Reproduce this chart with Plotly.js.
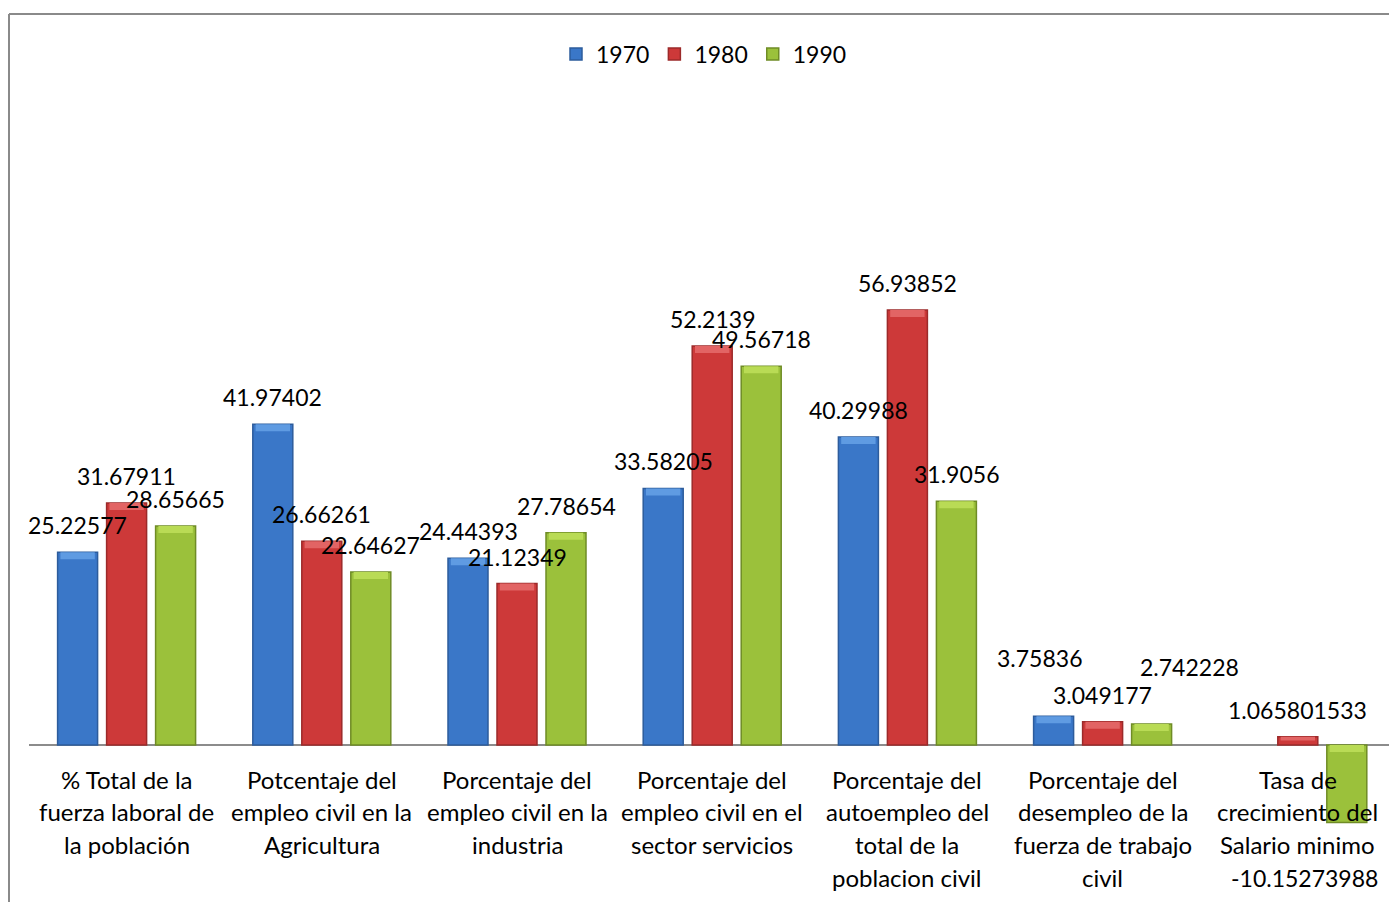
<!DOCTYPE html>
<html>
<head>
<meta charset="utf-8">
<script src="https://cdn.plot.ly/plotly-3.0.1.min.js"></script>
<style>
  html, body { margin: 0; padding: 0; background: #fff; overflow: hidden; }
  #chart { width: 1389px; height: 902px; }
</style>
</head>
<body>
<div id="chart"></div>
<script>
// Indicadores laborales por década
const categories = [
  ["% Total de la", "fuerza laboral de", "la población"],
  ["Potcentaje del", "empleo civil en la", "Agricultura"],
  ["Porcentaje del", "empleo civil en la", "industria"],
  ["Porcentaje del", "empleo civil en el", "sector servicios"],
  ["Porcentaje del", "autoempleo del", "total de la", "poblacion civil"],
  ["Porcentaje del", "desempleo de la", "fuerza de trabajo", "civil"],
  ["Tasa de", "crecimiento del", "Salario minimo"]
];
const seriesNames = ["1970", "1980", "1990"];
const values1970 = [25.22577, 41.97402, 24.44393, 33.58205, 40.29988, 3.75836, null];
const values1980 = [31.67911, 26.66261, 21.12349, 52.2139, 56.93852, 3.049177, 1.065801533];
const values1990 = [28.65665, 22.64627, 27.78654, 49.56718, 31.9056, 2.742228, -10.15273988];
const labelText1970 = ["25.22577", "41.97402", "24.44393", "33.58205", "40.29988", "3.75836", ""];
const labelText1980 = ["31.67911", "26.66261", "21.12349", "52.2139", "56.93852", "3.049177", "1.065801533"];
const labelText1990 = ["28.65665", "22.64627", "27.78654", "49.56718", "31.9056", "2.742228", "-10.15273988"];

// styling
const fillColors = ["#3a77c8", "#cd3939", "#9bc13b"];
const edgeColors = ["#2d5c9c", "#9c2a2a", "#6f8c26"];
const capColors  = ["#5f9be2", "#e26464", "#b9db55"];
const FONT = "Lato, 'Open Sans', sans-serif";
const PX_PER_CAT = 195.2;     // horizontal pixels per category
const PX_PER_UNIT = 7.64;     // vertical pixels per value unit
const BAR_PX = 40;            // bar width in pixels
const SLOT = 49;              // pixel pitch between bars of one group

const xIdx = categories.map((_, i) => i);
const allValues = [values1970, values1980, values1990];
const allLabels = [labelText1970, labelText1980, labelText1990];

const barW = BAR_PX / PX_PER_CAT;
const traces = [];
allValues.forEach((vals, s) => {
  const center = (s - 1) * SLOT / PX_PER_CAT;
  // main bar
  traces.push({
    type: "bar", name: seriesNames[s], x: xIdx, y: vals,
    width: barW, offset: center - barW / 2,
    marker: { color: fillColors[s], line: { color: edgeColors[s], width: 1.5 } },
    hoverinfo: "x+y+name"
  });
  // bevelled cap on the upper face of every bar
  const capH = vals.map(v => v === null ? null : Math.min(7 / PX_PER_UNIT, Math.abs(v) * 0.45));
  const capBase = vals.map((v, i) => v === null ? null : Math.max(v, 0) - capH[i]);
  traces.push({
    type: "bar", x: xIdx, y: capH, base: capBase,
    width: barW * 0.86, offset: center - barW * 0.43,
    marker: { color: capColors[s], line: { width: 0 } },
    showlegend: false, hoverinfo: "skip"
  });
});

// value labels: default sits above the bar top; a few are nudged aside
const labelNudge = {
  "0-5": { dx: -14, dy: 58 },
  "2-5": { dx: 38, dy: 57 },
  "2-6": { dx: -42, dy: -55 }
};
const annotations = [];
allValues.forEach((vals, s) => {
  vals.forEach((v, i) => {
    if (v === null) return;
    const n = labelNudge[s + "-" + i] || { dx: 0, dy: 27 };
    annotations.push({
      x: i, y: v, xref: "x", yref: "y",
      text: allLabels[s][i], showarrow: false,
      xanchor: "center", yanchor: "middle",
      xshift: (s - 1) * SLOT + n.dx, yshift: n.dy,
      font: { family: FONT, size: 23, color: "#000" }
    });
  });
});
// category names under the baseline
categories.forEach((lines, i) => {
  lines.forEach((ln, k) => {
    annotations.push({
      x: i, y: 0, xref: "x", yref: "y",
      text: ln, showarrow: false,
      xanchor: "center", yanchor: "middle",
      yshift: -(34 + k * 32.7),
      font: { family: FONT, size: 24, color: "#000" }
    });
  });
});

const plotW = 1389 - 29;
const layout = {
  width: 1389, height: 902,
  margin: { l: 29, r: 0, t: 14, b: 0, pad: 0 },
  paper_bgcolor: "#fff", plot_bgcolor: "rgba(0,0,0,0)",
  barmode: "overlay",
  showlegend: true,
  legend: {
    orientation: "h", x: 0.5 - 5 / plotW, xanchor: "center", y: 0.955, yanchor: "middle",
    font: { family: FONT, size: 23, color: "#000" }, itemclick: false
  },
  xaxis: {
    range: [-0.5, -0.5 + plotW / PX_PER_CAT],
    showticklabels: false, showgrid: false, zeroline: false, showline: false, ticks: ""
  },
  yaxis: {
    range: [-157 / PX_PER_UNIT, 731 / PX_PER_UNIT],
    showticklabels: false, showgrid: false, ticks: "",
    zeroline: true, zerolinecolor: "#8c8c8c", zerolinewidth: 2
  },
  annotations: annotations,
  shapes: [
    { type: "line", xref: "paper", yref: "paper", x0: -20 / plotW, x1: 1.02, y0: 1, y1: 1,
      line: { color: "#8a8a8a", width: 2 } },
    { type: "line", xref: "paper", yref: "paper", x0: -20 / plotW, x1: -20 / plotW, y0: -0.02, y1: 1,
      line: { color: "#8a8a8a", width: 2 } }
  ]
};

Plotly.newPlot("chart", traces, layout, { displayModeBar: false, staticPlot: true });
</script>
</body>
</html>
